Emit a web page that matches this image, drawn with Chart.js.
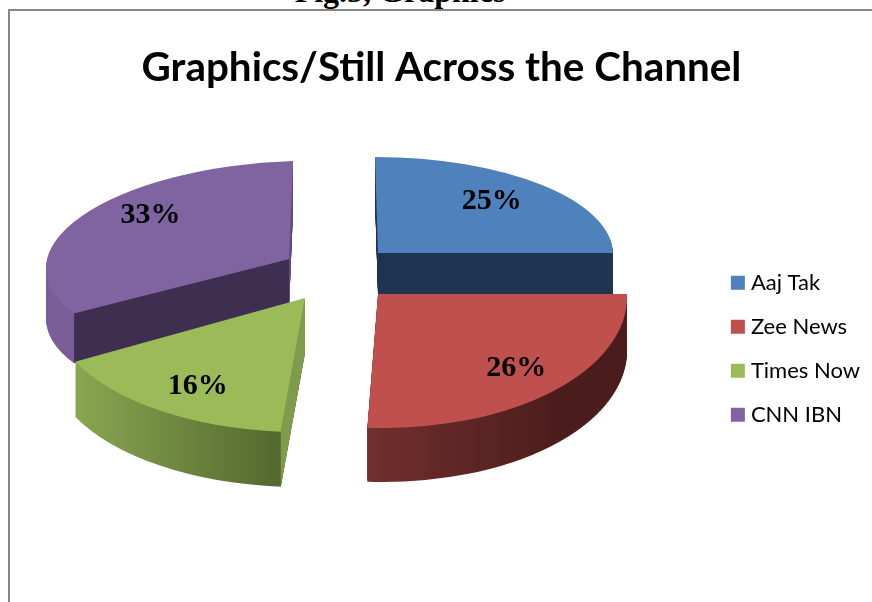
<!DOCTYPE html>
<html>
<head>
<meta charset="utf-8">
<title>Graphics/Still Across the Channel</title>
<script src="https://cdn.jsdelivr.net/npm/chart.js@4"></script>
<style>
    html, body { margin: 0; padding: 0; background: #fff; overflow: hidden; }
    #page { position: relative; width: 872px; height: 602px; overflow: hidden; }
    #caption {
        position: absolute; left: 0; width: 800px; top: -27px; text-align: center;
        font: bold 32px "Liberation Serif", serif; color: #000;
    }
    #frame {
        position: absolute; left: 8px; top: 9px; width: 872px; height: 600px;
        border-left: 2px solid #868686; border-top: 2px solid #868686;
    }
    #holder { position: absolute; left: 0; top: 0; width: 872px; height: 602px; }
</style>
</head>
<body>
<div id="page">
    <div id="caption">Fig.5, Graphics</div>
    <div id="frame"></div>
    <div id="holder"><canvas id="sharesChart"></canvas></div>
</div>
<script>
const channels = ['Aaj Tak', 'Zee News', 'Times Now', 'CNN IBN'];
const shares = [25, 26, 16, 33];

const topColors = ['#4f81bd', '#c0504d', '#9bbb59', '#8064a2'];

// each slice sits on its own ellipse: centre, x/y radius, shear, thickness
const sliceViews = [
    { cx: 378, cy: 253, rx: 235, ry: 96, shearX: 3, shearY: 0, depth: 41 },
    { cx: 378, cy: 294, rx: 249, ry: 134, shearX: 5, shearY: 0, depth: 54 },
    { cx: 305, cy: 298, rx: 258, ry: 134, shearX: -8, shearY: 1, depth: 55 },
    { cx: 289, cy: 259, rx: 243, ry: 98, shearX: -4, shearY: -8, depth: 50 }
];

// outer wall shading, left to right in slice units, and the flat cut faces
const sliceWalls = [
    { stops: ['#1f3450', '#1f3450'], from: 0, to: 1, cuts: { start: '#1f3450', end: '#1f3450' } },
    { stops: ['#702f2c', '#4a1c1b'], from: -0.05, to: 0.75, cuts: {} },
    { stops: ['#8aa752', '#566a2f'], from: -0.88, to: -0.09, cuts: { start: '#7f9b4c' } },
    { stops: ['#7a5d99', '#6f5390'], from: -1, to: 0, cuts: { start: '#3e2f50', end: '#5f4a7a' } }
];

// where the percentage sits, as a fraction of the radius from the slice centre
const labelSpots = [
    { x: 0.484, y: -0.54 },
    { x: 0.555, y: 0.555 },
    { x: -0.416, y: 0.655 },
    { x: -0.57, y: -0.45 }
];

const drawOrder = [0, 1, 3, 2];

function screenPoint(view, angle) {
    const ux = Math.cos(angle);
    const uy = Math.sin(angle);
    return {
        x: view.cx + view.rx * ux + view.shearX * uy,
        y: view.cy + view.shearY * ux + view.ry * uy
    };
}

function placeSlice(ctx, arc, view, drop) {
    const r = arc.outerRadius;
    ctx.translate(0, drop);
    ctx.transform(view.rx / r, view.shearY / r, view.shearX / r, view.ry / r, view.cx, view.cy);
    ctx.translate(-arc.x, -arc.y);
}

function drawCut(ctx, view, angle, color) {
    const rim = screenPoint(view, angle);
    ctx.beginPath();
    ctx.moveTo(view.cx, view.cy);
    ctx.lineTo(rim.x, rim.y);
    ctx.lineTo(rim.x, rim.y + view.depth);
    ctx.lineTo(view.cx, view.cy + view.depth);
    ctx.closePath();
    ctx.fillStyle = color;
    ctx.fill();
}

// Tilted pie: every arc is flattened onto its ellipse and stacked into a solid
const tiltedPie = {
    id: 'tiltedPie',
    beforeDatasetsDraw(chart) {
        const ctx = chart.ctx;
        const arcs = chart.getDatasetMeta(0).data;

        drawOrder.forEach((i) => {
            const arc = arcs[i];
            const view = sliceViews[i];
            const wall = sliceWalls[i];
            const r = arc.outerRadius;

            const shade = ctx.createLinearGradient(arc.x + wall.from * r, 0, arc.x + wall.to * r, 0);
            shade.addColorStop(0, wall.stops[0]);
            shade.addColorStop(1, wall.stops[1]);

            const side = Object.create(arc);
            side.options = Object.assign({}, arc.options, { backgroundColor: shade, borderWidth: 0 });
            for (let drop = view.depth; drop > 0; drop--) {
                ctx.save();
                placeSlice(ctx, arc, view, drop);
                side.draw(ctx);
                ctx.restore();
            }

            if (wall.cuts.start) drawCut(ctx, view, arc.startAngle, wall.cuts.start);
            if (wall.cuts.end) drawCut(ctx, view, arc.endAngle, wall.cuts.end);

            ctx.save();
            placeSlice(ctx, arc, view, 0);
            arc.draw(ctx);
            ctx.restore();
        });

        // percentages on top of the slices
        ctx.save();
        ctx.font = 'bold 30px "Liberation Serif", serif';
        ctx.fillStyle = '#000';
        ctx.textAlign = 'center';
        ctx.textBaseline = 'middle';
        shares.forEach((share, i) => {
            const view = sliceViews[i];
            const spot = labelSpots[i];
            ctx.fillText(share + '%', view.cx + spot.x * view.rx, view.cy + spot.y * view.ry);
        });
        ctx.restore();
        return false;
    }
};

new Chart(document.getElementById('sharesChart'), {
    type: 'pie',
    data: {
        labels: channels,
        datasets: [{
            data: shares,
            backgroundColor: topColors,
            borderWidth: 0
        }]
    },
    plugins: [tiltedPie],
    options: {
        responsive: true,
        maintainAspectRatio: false,
        animation: false,
        layout: { padding: { top: 44, right: 2, bottom: 59, left: 13 } },
        plugins: {
            tooltip: { enabled: false },
            title: {
                display: true,
                text: 'Graphics/Still Across the Channel',
                color: '#000',
                font: { family: 'Lato', size: 40.4, weight: 'bold' },
                padding: { top: 0, bottom: 62 }
            },
            legend: {
                position: 'right',
                fullSize: false,
                labels: {
                    color: '#000',
                    font: { family: 'Lato', size: 22 },
                    usePointStyle: true,
                    pointStyle: 'rect',
                    boxWidth: 4,
                    boxHeight: 14,
                    padding: 22
                }
            }
        }
    }
});
</script>
</body>
</html>
